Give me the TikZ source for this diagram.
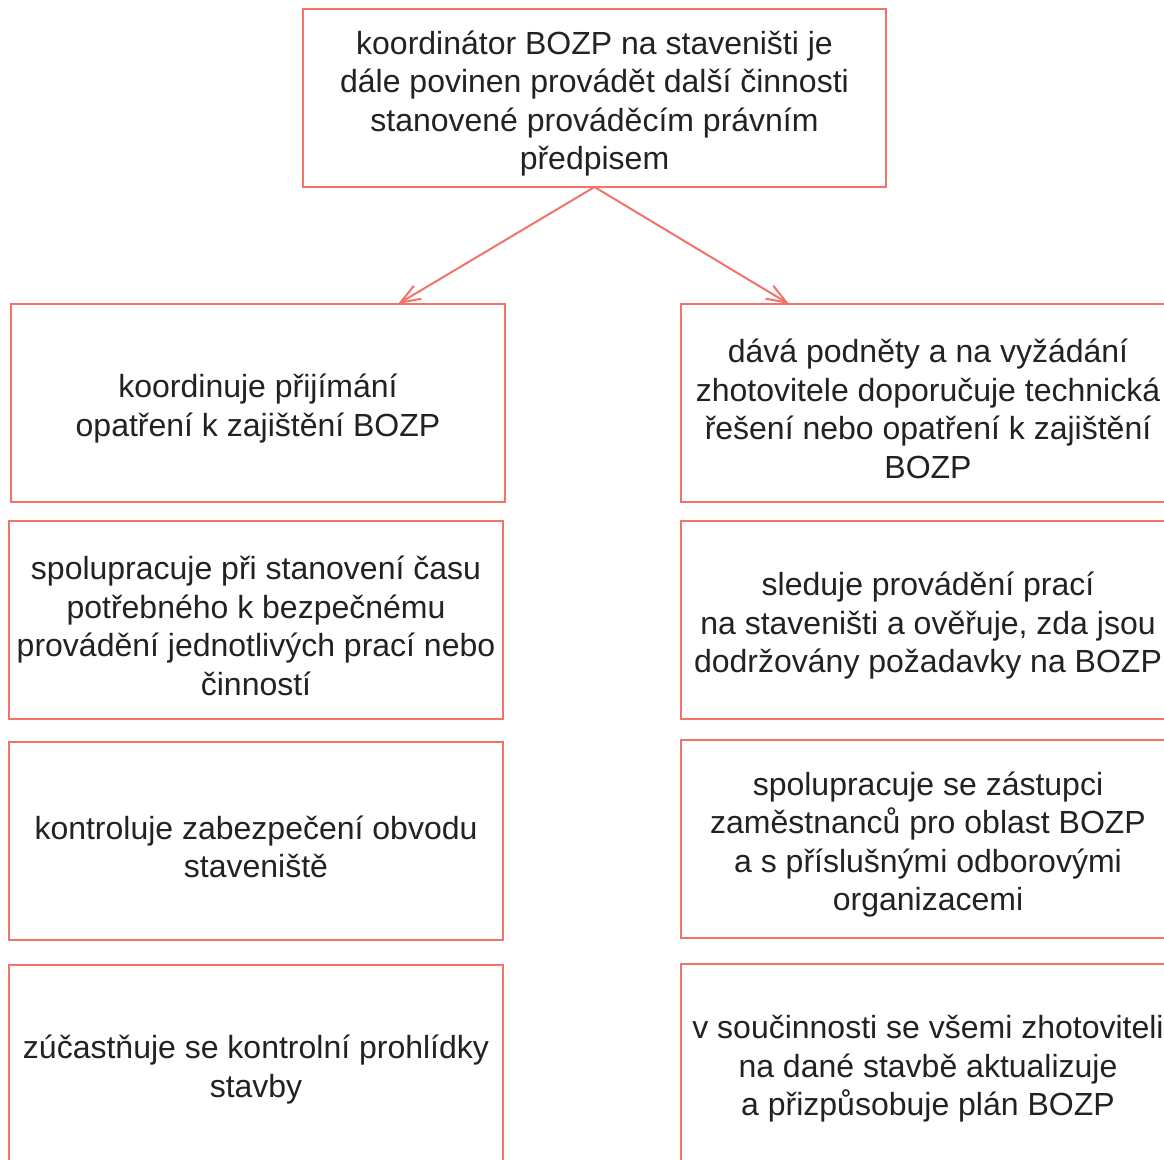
\documentclass[tikz,border=0pt]{standalone}
\usepackage{fontspec}
\setmainfont{Liberation Sans}
\usetikzlibrary{arrows.meta}
\usetikzlibrary{positioning}
\usepackage{xcolor}
\definecolor{salmon}{HTML}{F27367}
\definecolor{inkgrey}{HTML}{222222}
\newcommand{\topgap}{\rule{0pt}{35pt}}

\begin{document}
\begin{tikzpicture}[
  x=1pt, y=1pt,
  duty/.style={rectangle, draw=salmon, line width=2pt, fill=white,
    minimum width=494pt, minimum height=198pt, outer sep=0pt,
    inner sep=2pt, align=center, text=inkgrey,
    font=\fontsize{32}{38.5}\selectfont},
  head/.style={duty, minimum width=583pt, minimum height=178pt},
  arrow/.style={-{Straight Barb[length=20pt, width=15pt]},
    line width=2pt, draw=salmon},
]
\useasboundingbox (0,0) rectangle (1164,-1159);

% === Top: coordinator ===
\node[head] (coordinator) at (594.5,-98) {%
  \topgap koordinátor BOZP na staveništi je\\
  dále povinen provádět další činnosti\\
  stanovené prováděcím právním\\
  předpisem};

% === Left column ===
\node[duty] (prijimani) at (258,-403) {%
  \topgap koordinuje přijímání\\
  opatření k zajištění BOZP};

\node[duty, below=19pt of prijimani, xshift=-2pt] (cas) {%
  \topgap spolupracuje při stanovení času\\
  potřebného k bezpečnému\\
  provádění jednotlivých prací nebo\\
  činností};

\node[duty, below=23pt of cas] (obvod) {%
  \topgap kontroluje zabezpečení obvodu\\
  staveniště};

\node[duty, below=25pt of obvod] (prohlidka) {%
  \topgap zúčastňuje se kontrolní prohlídky\\
  stavby};

% === Right column ===
\node[duty] (podnety) at (928,-403) {%
  \topgap dává podněty a na vyžádání\\
  zhotovitele doporučuje technická\\
  řešení nebo opatření k zajištění\\
  BOZP};

\node[duty, below=19pt of podnety] (sledovani) {%
  \topgap sleduje provádění prací\\
  na staveništi a ověřuje, zda jsou\\
  dodržovány požadavky na BOZP};

\node[duty, below=21pt of sledovani] (zastupci) {%
  \topgap spolupracuje se zástupci\\
  zaměstnanců pro oblast BOZP\\
  a s příslušnými odborovými\\
  organizacemi};

\node[duty, below=26pt of zastupci] (plan) {%
  \topgap v součinnosti se všemi zhotoviteli\\
  na dané stavbě aktualizuje\\
  a přizpůsobuje plán BOZP};

% === Arrows ===
\draw[arrow] (coordinator.south) -- ([xshift=140pt]prijimani.north);
\draw[arrow] (coordinator.south) -- ([xshift=-139pt]podnety.north);

\end{tikzpicture}
\end{document}
